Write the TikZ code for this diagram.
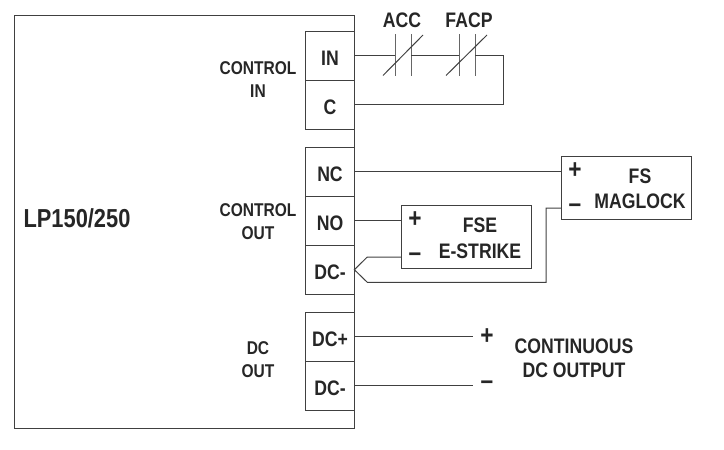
\documentclass[tikz,border=0pt]{standalone}
\usepackage{fontspec}
\setmainfont{Liberation Sans}[FakeStretch=0.84]
\definecolor{wire}{HTML}{404040}
\definecolor{ink}{HTML}{262626}
\tikzset{
  box/.style={draw=wire,line width=1pt,rectangle,inner sep=0pt,outer sep=0pt},
  term/.style={box,minimum width=48.7pt,minimum height=49pt,text=ink,text height=19.5pt,text depth=0pt,font=\fontsize{21}{23}\selectfont\bfseries},
  dev/.style={box,minimum width=130.5pt,minimum height=63.5pt},
  lab/.style={inner sep=0pt,outer sep=0pt,text=ink,align=center,font=\fontsize{18.5}{23}\selectfont\bfseries},
  big/.style={lab,font=\fontsize{21}{24.5}\selectfont\bfseries},
  pol/.style={lab,font=\fontsize{27}{28}\selectfont\bfseries},
  wirel/.style={draw=wire,line width=1pt},
}
\begin{document}
\begin{tikzpicture}[x=1pt,y=-1pt]
\useasboundingbox (0,0) rectangle (724,450);
% main unit
\node[box,minimum width=340pt,minimum height=413pt] (unit) at (184.3,221.5) {};
\node[lab,font=\fontsize{26}{28}\selectfont\bfseries] (name) at (77,218) {LP150/250};
% terminals
\node[term] (in) at (330,55.8) {IN};
\node[term] (c) at (330,104.7) {C};
\node[term] (nc) at (330,171.8) {NC};
\node[term] (no) at (330,220.8) {NO};
\node[term] (dcm) at (330,269.7) {DC-};
\node[term] (dcp2) at (330,336.6) {DC+};
\node[term] (dcm2) at (330,385.5) {DC-};
% group labels
\node[lab] (ctlin) at (258,79.5) {CONTROL\\IN};
\node[lab] (ctlout) at (258,221.5) {CONTROL\\OUT};
\node[lab] (dcout) at (258,360) {DC\\OUT};
% contacts
\node[big] (acc) at (402,20) {ACC};
\node[big] (facp) at (469,20) {FACP};
\foreach \n/\xa/\xb in {a/395/411,f/459/475}{
  \coordinate (\n l) at (\xa,55.5);
  \coordinate (\n r) at (\xb,55.5);
  \draw[wirel,draw=wire!80] (\xa,34) -- (\xa,76);
  \draw[wirel,draw=wire!80] (\xb,34) -- (\xb,76);
}
\draw[wirel] (383,75.5) -- (423,35);
\draw[wirel] (446,75.5) -- (487,35);
\coordinate (loop) at (503.7,55.5);
\draw[wirel] (in.east |- al) -- (al);
\draw[wirel] (ar) -- (fl);
\draw[wirel] (fr) -- (loop) |- (c.east);
% devices
\node[dev] (fs) at (626.6,188) {};
\node[big] (fsa) at (640,176) {FS};
\node[big] (fsb) at (640,201) {MAGLOCK};
\node[pol] (fsp) at (575,171) {+};
\node[pol] (fsm) at (575,208) {–};
\node[dev] (fse) at (466.5,237.2) {};
\node[big] (fsea) at (480,225) {FSE};
\node[big] (fseb) at (480,251) {E-STRIKE};
\node[pol] (fsep) at (415,220) {+};
\node[pol] (fsem) at (415,257) {–};
% wiring
\draw[wirel] (nc.east) -- (fs.west |- nc.east);
\draw[wirel] (no.east) -- (fse.west |- no.east);
\draw[wirel] (fse.west |- fsem) -- (367.3,257) -- (dcm.east) -- (367.3,282.3) -- (546,282.3) -- (546,208) -- (fs.west |- fsm);
% dc output
\node[pol] (op) at (487,337) {+};
\node[pol] (om) at (487,385.5) {–};
\coordinate (ope) at (473,336.6);
\coordinate (ome) at (473,385.5);
\draw[wirel] (dcp2.east) -- (ope);
\draw[wirel] (dcm2.east) -- (ome);
\node[big] (cont) at (574,358.5) {CONTINUOUS\\DC OUTPUT};
\end{tikzpicture}
\end{document}
